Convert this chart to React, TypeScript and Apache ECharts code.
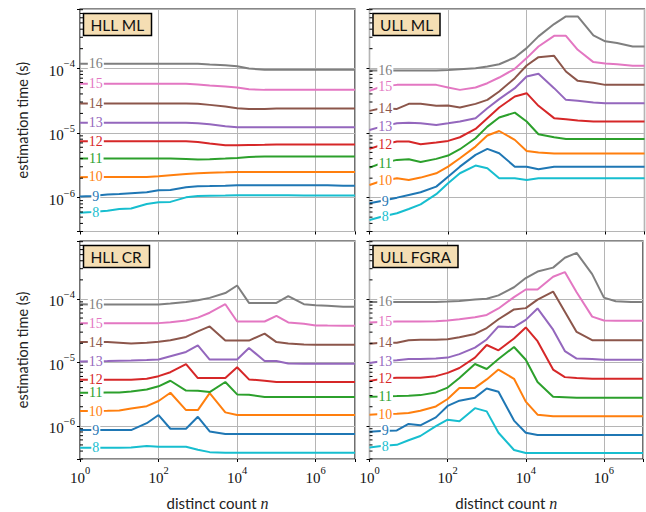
import React, { useEffect, useRef } from 'react';
import * as echarts from 'echarts';

// distinct counts n (1-2-5 sequence)
const counts = [1, 2, 5, 10, 20, 50, 100, 200, 500, 1e3, 2e3, 5e3, 1e4, 2e4, 5e4, 1e5, 2e5, 5e5, 1e6, 2e6, 5e6, 1e7];
const precisions = [8, 9, 10, 11, 12, 13, 14, 15, 16];
const colors = ['#17becf', '#1f77b4', '#ff7f0e', '#2ca02c', '#d62728', '#9467bd', '#8c564b', '#e377c2', '#7f7f7f'];
const panelTitles = ['HLL ML', 'ULL ML', 'HLL CR', 'ULL FGRA'];
const xTickExponents = [0, 2, 4, 6];
const yTickExponents = [-6, -5, -4];

// estimation time (s), rows = precision 8..16
const hllMl: number[][] = [
  [5.86e-7, 6.0e-7, 6.3e-7, 6.7e-7, 6.8e-7, 7.98e-7, 8.47e-7, 8.6e-7, 1.01e-6, 1.06e-6, 1.07e-6, 1.08e-6, 1.09e-6, 1.09e-6, 1.09e-6, 1.09e-6, 1.09e-6, 1.08e-6, 1.08e-6, 1.08e-6, 1.08e-6, 1.08e-6],
  [1.04e-6, 1.06e-6, 1.12e-6, 1.14e-6, 1.17e-6, 1.21e-6, 1.3e-6, 1.31e-6, 1.45e-6, 1.5e-6, 1.51e-6, 1.53e-6, 1.55e-6, 1.55e-6, 1.55e-6, 1.55e-6, 1.55e-6, 1.55e-6, 1.55e-6, 1.55e-6, 1.53e-6, 1.53e-6],
  [2.06e-6, 2.09e-6, 2.09e-6, 2.09e-6, 2.09e-6, 2.09e-6, 2.14e-6, 2.22e-6, 2.32e-6, 2.38e-6, 2.43e-6, 2.46e-6, 2.49e-6, 2.49e-6, 2.49e-6, 2.49e-6, 2.49e-6, 2.49e-6, 2.49e-6, 2.49e-6, 2.49e-6, 2.49e-6],
  [4.01e-6, 4.01e-6, 4.01e-6, 4.01e-6, 4.01e-6, 4.01e-6, 4.01e-6, 4.01e-6, 3.97e-6, 3.87e-6, 3.92e-6, 4.01e-6, 4.1e-6, 4.26e-6, 4.31e-6, 4.31e-6, 4.31e-6, 4.31e-6, 4.31e-6, 4.31e-6, 4.31e-6, 4.31e-6],
  [7.43e-6, 7.43e-6, 7.43e-6, 7.43e-6, 7.43e-6, 7.43e-6, 7.43e-6, 7.43e-6, 7.43e-6, 7.26e-6, 6.84e-6, 6.44e-6, 6.44e-6, 6.5e-6, 6.57e-6, 6.65e-6, 6.65e-6, 6.65e-6, 6.65e-6, 6.65e-6, 6.65e-6, 6.65e-6],
  [1.43e-5, 1.43e-5, 1.43e-5, 1.43e-5, 1.43e-5, 1.43e-5, 1.43e-5, 1.43e-5, 1.43e-5, 1.41e-5, 1.36e-5, 1.27e-5, 1.22e-5, 1.22e-5, 1.22e-5, 1.22e-5, 1.22e-5, 1.22e-5, 1.22e-5, 1.22e-5, 1.22e-5, 1.22e-5],
  [2.84e-5, 2.84e-5, 2.84e-5, 2.84e-5, 2.84e-5, 2.84e-5, 2.84e-5, 2.84e-5, 2.84e-5, 2.81e-5, 2.71e-5, 2.55e-5, 2.41e-5, 2.35e-5, 2.35e-5, 2.38e-5, 2.38e-5, 2.38e-5, 2.38e-5, 2.38e-5, 2.38e-5, 2.38e-5],
  [5.73e-5, 5.73e-5, 5.73e-5, 5.73e-5, 5.73e-5, 5.73e-5, 5.73e-5, 5.73e-5, 5.73e-5, 5.59e-5, 5.4e-5, 5.2e-5, 5.02e-5, 4.73e-5, 4.62e-5, 4.62e-5, 4.62e-5, 4.62e-5, 4.62e-5, 4.62e-5, 4.62e-5, 4.62e-5],
  [1.17e-4, 1.17e-4, 1.17e-4, 1.17e-4, 1.17e-4, 1.17e-4, 1.17e-4, 1.17e-4, 1.17e-4, 1.17e-4, 1.14e-4, 1.11e-4, 1.07e-4, 9.9e-5, 9.42e-5, 9.42e-5, 9.42e-5, 9.42e-5, 9.42e-5, 9.42e-5, 9.42e-5, 9.42e-5],
];

const ullMl: number[][] = [
  [4.52e-7, 5.08e-7, 5.73e-7, 6.68e-7, 7.88e-7, 1.13e-6, 1.67e-6, 2.38e-6, 3.13e-6, 2.84e-6, 1.99e-6, 1.99e-6, 1.88e-6, 2.0e-6, 1.99e-6, 1.99e-6, 1.99e-6, 1.99e-6, 1.99e-6, 1.99e-6, 1.99e-6, 1.99e-6],
  [8.17e-7, 8.87e-7, 1.0e-6, 1.1e-6, 1.21e-6, 1.48e-6, 2.11e-6, 3.01e-6, 4.57e-6, 5.66e-6, 4.85e-6, 3.01e-6, 3.01e-6, 2.74e-6, 3.01e-6, 3.01e-6, 3.01e-6, 3.01e-6, 3.01e-6, 3.01e-6, 3.01e-6, 3.01e-6],
  [1.57e-6, 1.81e-6, 1.99e-6, 1.88e-6, 2.04e-6, 2.38e-6, 3.01e-6, 4.06e-6, 6.15e-6, 9.1e-6, 1.07e-5, 7.8e-6, 5.27e-6, 4.97e-6, 4.79e-6, 4.79e-6, 4.79e-6, 4.79e-6, 4.79e-6, 4.79e-6, 4.79e-6, 4.79e-6],
  [2.91e-6, 3.4e-6, 3.83e-6, 3.92e-6, 3.56e-6, 3.97e-6, 4.47e-6, 5.6e-6, 8.27e-6, 1.25e-5, 1.73e-5, 2.06e-5, 1.5e-5, 9.54e-6, 8.57e-6, 8.08e-6, 8.08e-6, 8.08e-6, 8.08e-6, 8.08e-6, 8.08e-6, 8.08e-6],
  [5.66e-6, 6.52e-6, 7.34e-6, 7.34e-6, 6.68e-6, 7.09e-6, 7.52e-6, 8.57e-6, 1.15e-5, 1.69e-5, 2.47e-5, 3.65e-5, 4.11e-5, 2.62e-5, 1.69e-5, 1.63e-5, 1.55e-5, 1.5e-5, 1.5e-5, 1.5e-5, 1.5e-5, 1.5e-5],
  [1.11e-5, 1.25e-5, 1.41e-5, 1.43e-5, 1.41e-5, 1.33e-5, 1.41e-5, 1.5e-5, 1.69e-5, 2.4e-5, 3.32e-5, 4.91e-5, 7.43e-5, 8.17e-5, 4.91e-5, 3.24e-5, 3.13e-5, 2.94e-5, 2.88e-5, 2.88e-5, 2.88e-5, 2.88e-5],
  [2.19e-5, 2.4e-5, 2.35e-5, 2.81e-5, 2.81e-5, 2.62e-5, 2.64e-5, 2.47e-5, 2.81e-5, 3.24e-5, 4.36e-5, 7.0e-5, 1.1e-4, 1.48e-4, 1.55e-4, 8.88e-5, 6.37e-5, 5.93e-5, 5.52e-5, 5.52e-5, 5.52e-5, 5.52e-5],
  [4.46e-5, 5.2e-5, 5.52e-5, 5.52e-5, 5.52e-5, 5.52e-5, 5.02e-5, 4.62e-5, 5.02e-5, 5.86e-5, 7.17e-5, 9.77e-5, 1.43e-4, 2.16e-4, 3.16e-4, 3.16e-4, 1.92e-4, 1.24e-4, 1.18e-4, 1.15e-4, 1.09e-4, 1.09e-4],
  [9.2e-5, 9.2e-5, 9.2e-5, 9.2e-5, 9.2e-5, 9.2e-5, 9.4e-5, 9.65e-5, 1.0e-4, 1.06e-4, 1.15e-4, 1.46e-4, 2.04e-4, 3.1e-4, 4.8e-4, 6.3e-4, 6.3e-4, 3.2e-4, 2.6e-4, 2.44e-4, 2.16e-4, 2.16e-4],
];

const hllCr: number[][] = [
  [4.52e-7, 4.52e-7, 4.52e-7, 4.52e-7, 4.55e-7, 4.79e-7, 4.68e-7, 4.68e-7, 4.68e-7, 4.2e-7, 3.85e-7, 3.78e-7, 3.78e-7, 3.78e-7, 3.78e-7, 3.78e-7, 3.78e-7, 3.78e-7, 3.78e-7, 3.78e-7, 3.78e-7, 3.78e-7],
  [8.57e-7, 8.57e-7, 8.57e-7, 8.57e-7, 8.57e-7, 1.1e-6, 1.48e-6, 8.99e-7, 8.99e-7, 1.39e-6, 8.17e-7, 7.43e-7, 7.43e-7, 7.43e-7, 7.43e-7, 7.43e-7, 7.43e-7, 7.43e-7, 7.43e-7, 7.43e-7, 7.43e-7, 7.43e-7],
  [1.71e-6, 1.71e-6, 1.73e-6, 1.75e-6, 1.88e-6, 2.04e-6, 2.46e-6, 3.32e-6, 1.77e-6, 1.77e-6, 3.28e-6, 1.63e-6, 1.48e-6, 1.48e-6, 1.48e-6, 1.48e-6, 1.48e-6, 1.48e-6, 1.48e-6, 1.48e-6, 1.48e-6, 1.48e-6],
  [3.32e-6, 3.32e-6, 3.34e-6, 3.36e-6, 3.48e-6, 3.73e-6, 4.2e-6, 5.14e-6, 3.6e-6, 3.56e-6, 3.4e-6, 4.91e-6, 3.13e-6, 3.09e-6, 2.84e-6, 2.84e-6, 2.84e-6, 2.84e-6, 2.84e-6, 2.84e-6, 2.84e-6, 2.84e-6],
  [5.33e-6, 5.33e-6, 5.33e-6, 5.33e-6, 5.33e-6, 5.52e-6, 6.07e-6, 7.0e-6, 9.42e-6, 5.66e-6, 5.66e-6, 5.66e-6, 8.37e-6, 5.39e-6, 5.14e-6, 4.91e-6, 4.91e-6, 4.91e-6, 4.91e-6, 4.91e-6, 4.91e-6, 4.91e-6],
  [1.03e-5, 1.04e-5, 1.05e-5, 1.06e-5, 1.07e-5, 1.09e-5, 1.11e-5, 1.25e-5, 1.46e-5, 1.85e-5, 1.11e-5, 1.11e-5, 1.11e-5, 1.69e-5, 1.05e-5, 1.05e-5, 9.6e-6, 9.54e-6, 9.54e-6, 9.54e-6, 9.54e-6, 9.54e-6],
  [2.09e-5, 2.09e-5, 2.09e-5, 2.04e-5, 1.99e-5, 2.04e-5, 2.12e-5, 2.24e-5, 2.52e-5, 3.09e-5, 3.69e-5, 2.21e-5, 2.21e-5, 2.21e-5, 2.84e-5, 2.09e-5, 1.99e-5, 1.92e-5, 1.9e-5, 1.9e-5, 1.9e-5, 1.9e-5],
  [4.16e-5, 4.16e-5, 4.16e-5, 4.16e-5, 4.16e-5, 4.16e-5, 4.16e-5, 4.31e-5, 4.57e-5, 5.08e-5, 6.07e-5, 8.27e-5, 4.41e-5, 4.41e-5, 4.41e-5, 5.4e-5, 4.26e-5, 4.06e-5, 3.82e-5, 3.8e-5, 3.78e-5, 3.78e-5],
  [8.27e-5, 8.2e-5, 8.17e-5, 8.17e-5, 8.17e-5, 8.17e-5, 8.17e-5, 8.47e-5, 8.99e-5, 9.54e-5, 1.04e-4, 1.24e-4, 1.63e-4, 8.67e-5, 8.67e-5, 8.67e-5, 1.11e-4, 8.27e-5, 7.98e-5, 7.79e-5, 7.52e-5, 7.52e-5],
];

const ullFgra: number[][] = [
  [4.57e-7, 4.8e-7, 5.02e-7, 5.93e-7, 6.92e-7, 9.88e-7, 1.25e-6, 1.18e-6, 1.9e-6, 1.69e-6, 7.79e-7, 4.16e-7, 3.73e-7, 3.73e-7, 3.73e-7, 3.73e-7, 3.73e-7, 3.73e-7, 3.73e-7, 3.73e-7, 3.73e-7, 3.73e-7],
  [8.07e-7, 8.3e-7, 8.47e-7, 1.07e-6, 1.02e-6, 1.36e-6, 2.06e-6, 2.49e-6, 2.78e-6, 3.87e-6, 3.44e-6, 1.21e-6, 7.79e-7, 7.18e-7, 7.18e-7, 7.18e-7, 7.18e-7, 7.18e-7, 7.18e-7, 7.18e-7, 7.18e-7, 7.18e-7],
  [1.5e-6, 1.53e-6, 1.55e-6, 1.59e-6, 1.73e-6, 2.02e-6, 2.65e-6, 3.96e-6, 3.96e-6, 5.39e-6, 7.7e-6, 5.52e-6, 2.41e-6, 1.5e-6, 1.41e-6, 1.41e-6, 1.41e-6, 1.41e-6, 1.41e-6, 1.41e-6, 1.41e-6, 1.41e-6],
  [2.88e-6, 2.9e-6, 2.94e-6, 2.98e-6, 3.05e-6, 3.36e-6, 4.01e-6, 5.66e-6, 9.42e-6, 7.88e-6, 1.13e-5, 1.75e-5, 1.1e-5, 4.91e-6, 2.88e-6, 2.83e-6, 2.78e-6, 2.78e-6, 2.78e-6, 2.78e-6, 2.78e-6, 2.78e-6],
  [5.08e-6, 5.5e-6, 5.73e-6, 5.73e-6, 5.73e-6, 6.07e-6, 6.84e-6, 8.17e-6, 1.19e-5, 1.88e-5, 1.55e-5, 2.38e-5, 3.56e-5, 2.16e-5, 7.7e-6, 5.86e-6, 5.66e-6, 5.52e-6, 5.52e-6, 5.52e-6, 5.52e-6, 5.52e-6],
  [9.77e-6, 1.04e-5, 1.08e-5, 1.13e-5, 1.13e-5, 1.15e-5, 1.19e-5, 1.35e-5, 1.71e-5, 2.3e-5, 3.69e-5, 3.6e-5, 4.68e-5, 7.09e-5, 3.28e-5, 1.51e-5, 1.15e-5, 1.13e-5, 1.1e-5, 1.1e-5, 1.1e-5, 1.1e-5],
  [1.97e-5, 2.04e-5, 2.04e-5, 2.24e-5, 2.27e-5, 2.27e-5, 2.32e-5, 2.49e-5, 2.81e-5, 3.48e-5, 4.79e-5, 6.84e-5, 7.17e-5, 9.77e-5, 1.31e-4, 6.29e-5, 3.02e-5, 2.24e-5, 2.24e-5, 2.24e-5, 2.24e-5, 2.24e-5],
  [4.26e-5, 4.35e-5, 4.41e-5, 4.41e-5, 4.41e-5, 4.46e-5, 4.57e-5, 4.79e-5, 5.14e-5, 5.59e-5, 7.09e-5, 1.07e-4, 1.41e-4, 1.41e-4, 2.24e-4, 2.65e-4, 1.28e-4, 5.27e-5, 4.57e-5, 4.52e-5, 4.52e-5, 4.52e-5],
  [8.99e-5, 8.99e-5, 8.99e-5, 8.99e-5, 8.99e-5, 8.99e-5, 9.1e-5, 9.31e-5, 9.77e-5, 1.01e-4, 1.14e-4, 1.53e-4, 2.14e-4, 2.71e-4, 3.12e-4, 4.46e-4, 5.33e-4, 2.46e-4, 1.05e-4, 9.2e-5, 8.99e-5, 8.99e-5],
];

const panels = [hllMl, ullMl, hllCr, ullFgra];

const X_MIN = 1;
const X_MAX = 1e7;
const Y_MIN = 3e-7;
const Y_MAX = 8.2e-4;

const serif = "'Liberation Serif', 'DejaVu Serif', serif";
const sans = "Lato, 'Open Sans', 'Noto Sans', sans-serif";

const grids = [
  { left: 80, top: 9, width: 275, height: 222.5 },
  { left: 369.5, top: 9, width: 275, height: 222.5 },
  { left: 80, top: 241, width: 275, height: 222.5 },
  { left: 369.5, top: 241, width: 275, height: 222.5 },
];

const powRich = {
  b: { fontFamily: serif, fontSize: 15, color: '#111', padding: [5, 0, 0, 0] },
  s: { fontFamily: serif, fontSize: 10.5, color: '#111', verticalAlign: 'top' },
};

function powLabel(v: number, allowed: number[]) {
  const l = Math.log10(v);
  const e = Math.round(l);
  if (Math.abs(l - e) > 1e-6 || allowed.indexOf(e) < 0) return '';
  const s = e < 0 ? '\u2212' + Math.abs(e) : String(e);
  return `{b|10}{s|${s}}`;
}

function minorTickValues() {
  const out: number[] = [];
  for (let k = -7; k <= -4; k++) {
    for (let m = 2; m <= 9; m++) {
      const v = m * Math.pow(10, k);
      if (v > Y_MIN * 0.999 && v < Y_MAX) out.push(v);
    }
  }
  return out;
}

function buildOption() {
  const xAxis: any[] = [];
  const yAxis: any[] = [];
  const series: any[] = [];
  const minor = minorTickValues();
  grids.forEach((g, i) => {
    const isBottom = i >= 2;
    const isLeft = i % 2 === 0;
    xAxis.push({
      type: 'log',
      logBase: 10,
      gridIndex: i,
      min: X_MIN,
      max: X_MAX,
      interval: 2,
      axisLine: { show: false },
      axisTick: { show: true, inside: false, length: 3, lineStyle: { color: '#000', width: 1 } },
      axisLabel: {
        show: isBottom,
        margin: 6,
        formatter: (v: number) => powLabel(v, xTickExponents),
        rich: powRich,
      },
      splitLine: { show: true, lineStyle: { color: '#b5b5b5', width: 1 } },
      name: isBottom ? 'distinct count {i|n}' : '',
      nameLocation: 'middle',
      nameGap: 36,
      nameTextStyle: {
        fontFamily: sans,
        fontSize: 15,
        color: '#222',
        rich: { i: { fontFamily: serif, fontStyle: 'italic', fontSize: 16, color: '#222' } },
      },
    });
    yAxis.push({
      type: 'log',
      logBase: 10,
      gridIndex: i,
      min: Y_MIN,
      max: Y_MAX,
      axisLine: { show: false },
      axisTick: { show: true, inside: false, length: 3, lineStyle: { color: '#000', width: 1 } },
      axisLabel: {
        show: isLeft,
        margin: 5,
        formatter: (v: number) => powLabel(v, yTickExponents),
        rich: powRich,
      },
      splitLine: { show: true, lineStyle: { color: '#b5b5b5', width: 1 } },
      name: isLeft ? 'estimation time (s)' : '',
      nameLocation: 'middle',
      nameGap: 50,
      nameRotate: 90,
      nameTextStyle: { fontFamily: sans, fontSize: 14.5, color: '#222' },
    });

    const rows = panels[i];
    rows.forEach((vals, j) => {
      const color = colors[j];
      const p = precisions[j];
      series.push({
        type: 'line',
        name: `${panelTitles[i]} p=${p}`,
        xAxisIndex: i,
        yAxisIndex: i,
        silent: true,
        showSymbol: true,
        symbol: 'circle',
        symbolSize: 0,
        lineStyle: { width: 2, color },
        itemStyle: { color },
        z: 3,
        data: counts.map((n, k) =>
          k === 1
            ? {
                value: [n, vals[k]],
                label: {
                  show: true,
                  position: 'inside',
                  offset: [4, 0],
                  formatter: String(p),
                  color,
                  fontFamily: serif,
                  fontSize: 14,
                  backgroundColor: '#fff',
                  padding: [0, 1],
                  lineHeight: 11,
                },
              }
            : [n, vals[k]]
        ),
      });
    });

    series.push({
      type: 'custom',
      xAxisIndex: i,
      yAxisIndex: i,
      silent: true,
      clip: false,
      z: 5,
      data: minor.map((v) => [X_MIN, v]),
      renderItem: (params: any, api: any) => {
        const pt = api.coord([X_MIN, api.value(1)]);
        return {
          type: 'line',
          shape: { x1: pt[0], y1: pt[1], x2: pt[0] + 3, y2: pt[1] },
          style: { stroke: '#000', lineWidth: 1 },
        };
      },
    });
  });

  const title = panelTitles.map((t, i) => ({
    text: t,
    left: grids[i].left + 3.5,
    top: grids[i].top + 4.5,
    padding: [3, 7, 3, 7],
    backgroundColor: '#f5deb3',
    borderColor: '#000',
    borderWidth: 1.5,
    textStyle: { fontFamily: sans, fontSize: 15.5, fontWeight: 'normal', color: '#111' },
  }));

  return {
    animation: false,
    backgroundColor: '#fff',
    title,
    grid: grids.map((g) => ({ ...g, show: true, borderColor: '#111', borderWidth: 1.2, backgroundColor: 'transparent' })),
    xAxis,
    yAxis,
    series,
  };
}

export default function App() {
  const ref = useRef<HTMLDivElement>(null);
  useEffect(() => {
    if (!ref.current) return;
    const chart = echarts.init(ref.current, undefined, { renderer: 'svg' });
    chart.setOption(buildOption() as any);
    return () => chart.dispose();
  }, []);
  return <div ref={ref} style={{ position: 'fixed', left: 0, top: 0, width: 646, height: 512 }} />;
}
